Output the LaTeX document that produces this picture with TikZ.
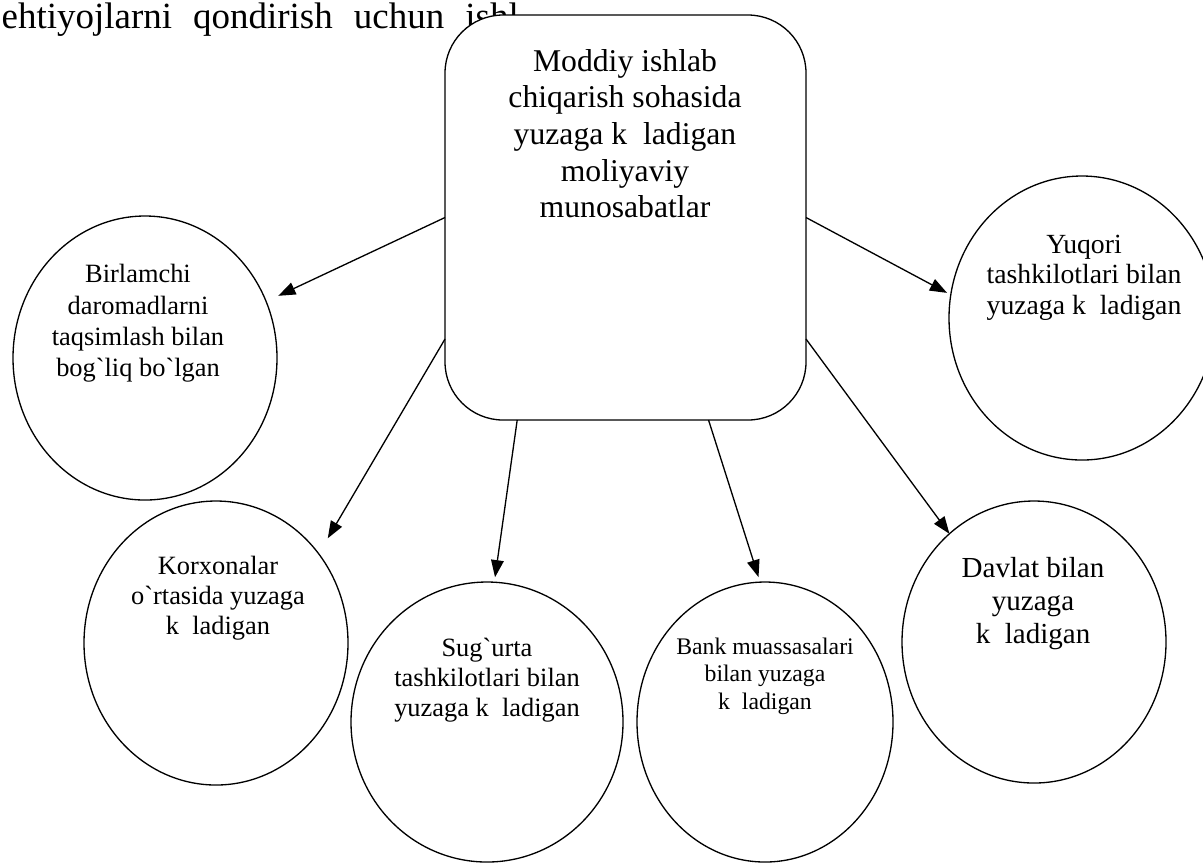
\documentclass[tikz,border=0pt]{standalone}
\usepackage{fontspec}
\setmainfont{Liberation Serif}[Ligatures=TeXOff]
\usetikzlibrary{shapes.geometric,arrows.meta,calc}
\newcommand{\gv}{\symbol{96}}
\def\px{0.3788pt}

\begin{document}
\begin{tikzpicture}[x=\px,y=-\px,>={Triangle[length=6.5pt,width=4.8pt]},line width=0.5pt,
        bubble/.style={draw,ellipse,fill=white,inner sep=0pt,outer sep=0pt},
        words/.style={align=center,anchor=north,inner sep=0pt}]
        \useasboundingbox (0,0) rectangle (1203,862);
        \clip (0,0) rectangle (1203,862);
        % line of text behind the box
        \node[anchor=base west,inner sep=0pt,font=\fontsize{14}{16}\selectfont] (ehtiyoj) at (1,28) {\spaceskip=8pt ehtiyojlarni qondirish uchun ishl};
        \node[draw,fill=white,rounded corners=22pt,minimum width=361*\px,minimum height=405*\px,inner sep=0pt,outer sep=0pt] (moddiy) at (625.5,217.5) {};
        \node[words,font=\fontsize{12}{13.9}\selectfont] at (625,48.5) {Moddiy ishlab\\chiqarish sohasida\\yuzaga k~~ladigan\\moliyaviy\\munosabatlar};
        % ellipses
        \node[bubble,minimum width=264*\px,minimum height=284*\px] (birlamchi) at (145,358) {};
        \node[bubble,minimum width=264*\px,minimum height=284*\px] (korxona) at (216,643) {};
        \node[bubble,minimum width=272*\px,minimum height=280*\px] (sugurta) at (487,722) {};
        \node[bubble,minimum width=256*\px,minimum height=280*\px] (bank) at (765,722) {};
        \node[bubble,minimum width=264*\px,minimum height=282*\px] (davlat) at (1034,642) {};
        \node[bubble,minimum width=266*\px,minimum height=284*\px] (yuqori) at (1082,318) {};
        \node[words,font=\fontsize{10}{11.75}\selectfont] at (138,264) {Birlamchi\\daromadlarni\\taqsimlash bilan\\bog\gv liq bo\gv lgan};
        \node[words,font=\fontsize{10}{11.4}\selectfont] at (218,555) {Korxonalar\\o\gv rtasida yuzaga\\k~~ladigan};
        \node[words,font=\fontsize{10}{11.4}\selectfont] at (487,637) {Sug\gv urta\\tashkilotlari bilan\\yuzaga k~~ladigan};
        \node[words,font=\fontsize{9}{10.4}\selectfont] at (765,637) {Bank muassasalari\\bilan yuzaga\\k~~ladigan};
        \node[words,font=\fontsize{11}{12.5}\selectfont] at (1033,557) {Davlat bilan\\yuzaga\\k~~ladigan};
        \begin{scope}
            \clip (0,0) rectangle (1180,862);
            \node[words,font=\fontsize{10.5}{11.7}\selectfont] at (1084,234) {Yuqori\\tashkilotlari bilan\\yuzaga k~~ladigan};
        \end{scope}
        % arrows
        \draw[->,shorten >=5.1pt] (moddiy.west) -- (birlamchi.25.3);
        \draw[->,shorten >=6.8pt] ($(moddiy.west)!0.6!(moddiy.south west)$) -- (korxona.41.6);
        \draw[->,shorten >=1.9pt] ($(moddiy.south west)!0.2!(moddiy.south east)$) -- (sugurta.87.9);
        \draw[->,shorten >=2pt] ($(moddiy.south west)!0.73!(moddiy.south east)$) -- (bank.92.6);
        \draw[->,shorten >=1.6pt] (moddiy.east) -- (yuqori.170.1);
        \draw[->] ($(moddiy.east)!0.6!(moddiy.south east)$) -- (davlat.128.8);
    \end{tikzpicture}
\end{document}
